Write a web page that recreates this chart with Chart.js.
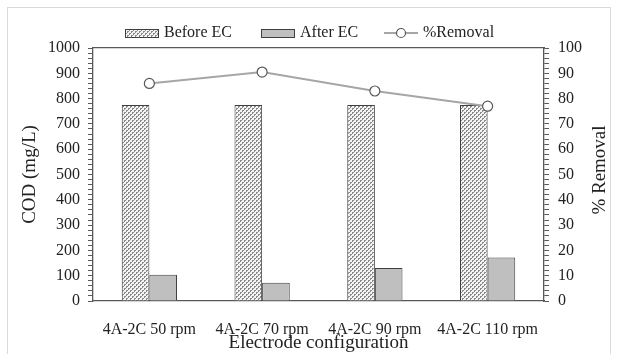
<!DOCTYPE html>
<html>
<head>
<meta charset="utf-8">
<script src="https://cdn.jsdelivr.net/npm/chart.js@4"></script>
<style>
  body { margin: 0; background: #fff; }
  #wrap { position: relative; width: 617px; height: 354px; }
  #frame { position: absolute; left: 7px; top: 7px; width: 602px; height: 346px; border: 1px solid #d9d9d9; }
  #js--chart--1 { position: relative; }
  #legend { position: absolute; top: 22px; left: 0; width: 617px; height: 20px; font: 16px "Liberation Serif", serif; color: #222; }
  .item { position: absolute; top: 0; height: 20px; line-height: 20px; white-space: nowrap; }
  .sw { display: inline-block; vertical-align: middle; margin-right: 5px; }
</style>
</head>
<body>
<div id="wrap">
  <div id="frame"></div>
  <canvas id="js--chart--1" width="617" height="354"></canvas>
  <div id="legend">
    <span class="item" style="left:125px"><canvas class="sw" id="sw1" width="34" height="9"></canvas>Before EC</span>
    <span class="item" style="left:261px"><canvas class="sw" id="sw2" width="34" height="9"></canvas>After EC</span>
    <span class="item" style="left:384px"><canvas class="sw" id="sw3" width="34" height="12"></canvas>%Removal</span>
  </div>
</div>
<script>
const labels = ["4A-2C 50 rpm", "4A-2C 70 rpm", "4A-2C 90 rpm", "4A-2C 110 rpm"];
const beforeEC = [775, 775, 775, 775];
const afterEC = [104, 72, 130, 172];
const removal = [86, 90.5, 83, 77];

const lineGray = '#a6a6a6';
const edge = '#404040';

// dotted fill like the Excel pattern
function dotPattern(ctx) {
    const c = document.createElement('canvas');
    c.width = 4; c.height = 4;
    const p = c.getContext('2d');
    p.fillStyle = '#f4f4f4';
    p.fillRect(0, 0, 4, 4);
    p.fillStyle = '#8a8a8a';
    p.fillRect(0, 0, 2, 1);
    p.fillRect(0, 1, 1, 1);
    p.fillRect(2, 2, 2, 1);
    p.fillRect(2, 3, 1, 1);
    return ctx.createPattern(c, 'repeat');
}

const canvas = document.getElementById("js--chart--1");
const dots = dotPattern(canvas.getContext('2d'));

// legend swatches
(function () {
    let s = document.getElementById('sw1').getContext('2d');
    s.fillStyle = dotPattern(s); s.fillRect(0, 0, 34, 9);
    s.strokeStyle = edge; s.strokeRect(0.5, 0.5, 33, 8);
    s = document.getElementById('sw2').getContext('2d');
    s.fillStyle = '#bfbfbf'; s.fillRect(0, 0, 34, 9);
    s.strokeStyle = edge; s.strokeRect(0.5, 0.5, 33, 8);
    s = document.getElementById('sw3').getContext('2d');
    s.strokeStyle = lineGray; s.lineWidth = 2;
    s.beginPath(); s.moveTo(0, 6); s.lineTo(34, 6); s.stroke();
    s.fillStyle = '#fff'; s.strokeStyle = '#595959'; s.lineWidth = 1.2;
    s.beginPath(); s.arc(17, 6, 4.5, 0, Math.PI * 2); s.fill(); s.stroke();
})();

const rightTitle = {
    id: 'rightTitle',
    afterDraw(chart) {
        const ctx = chart.ctx;
        ctx.save();
        ctx.font = '19px "Liberation Serif"';
        ctx.fillStyle = '#222';
        ctx.textAlign = 'center';
        ctx.textBaseline = 'middle';
        ctx.translate(600, 170);
        ctx.rotate(-Math.PI / 2);
        ctx.fillText('% Removal', 0, 0);
        ctx.restore();
    }
};

const data = {
    labels: labels,
    datasets: [
        {
            type: 'line',
            label: '%Removal',
            data: removal,
            yAxisID: 'y1',
            borderColor: lineGray,
            borderWidth: 2,
            pointRadius: 5,
            pointBackgroundColor: '#fff',
            pointBorderColor: '#595959',
            pointBorderWidth: 1.2,
            order: 0
        },
        {
            label: 'Before EC',
            data: beforeEC,
            backgroundColor: dots,
            borderColor: edge,
            borderWidth: 1,
            order: 1
        },
        {
            label: 'After EC',
            data: afterEC,
            backgroundColor: '#bfbfbf',
            borderColor: edge,
            borderWidth: 1,
            order: 1
        }
    ]
};

const tickFont = { family: 'Liberation Serif', size: 16 };
const titleFont = { family: 'Liberation Serif', size: 19 };

const config = {
    type: 'bar',
    data: data,
    plugins: [rightTitle],
    options: {
        responsive: false,
        animation: false,
        layout: { padding: { top: 48, left: 0, right: 0, bottom: 0 } },
        plugins: { legend: { display: false }, tooltip: { enabled: false } },
        datasets: { bar: { barPercentage: 1, categoryPercentage: 0.49 } },
        scales: {
            x: {
                grid: { display: false },
                border: { color: '#595959', width: 1.3 },
                ticks: { font: tickFont, color: '#222', padding: 11, maxRotation: 0 },
                title: { display: true, text: 'Electrode configuration', font: titleFont, color: '#222', padding: { top: 0, bottom: 0 } },
                afterFit(s) { s.height = 53; }
            },
            xTop: {
                position: 'top',
                grid: { display: false },
                border: { color: '#595959', width: 1.3 },
                ticks: { display: false },
                afterFit(s) { s.height = 0; }
            },
            y: {
                min: 0, max: 1000,
                grid: { drawOnChartArea: false, color: '#595959', tickLength: 5 },
                border: { color: '#595959', width: 1.3 },
                ticks: {
                    stepSize: 20, autoSkip: false, font: tickFont, color: '#222', padding: 8,
                    callback: v => v % 100 === 0 ? v : ''
                },
                title: { display: true, text: 'COD (mg/L)', font: titleFont, color: '#222', padding: { top: 19, bottom: 0 } },
                afterFit(s) { s.width = 93; }
            },
            y1: {
                position: 'right',
                min: 0, max: 100,
                grid: { drawOnChartArea: false, color: '#595959', tickLength: 5 },
                border: { color: '#595959', width: 1.3 },
                ticks: {
                    stepSize: 2, autoSkip: false, font: tickFont, color: '#222', padding: 9,
                    callback: v => v % 10 === 0 ? v : ''
                },
                afterFit(s) { s.width = 73; }
            }
        }
    }
};

new Chart(canvas, config);
</script>
</body>
</html>
